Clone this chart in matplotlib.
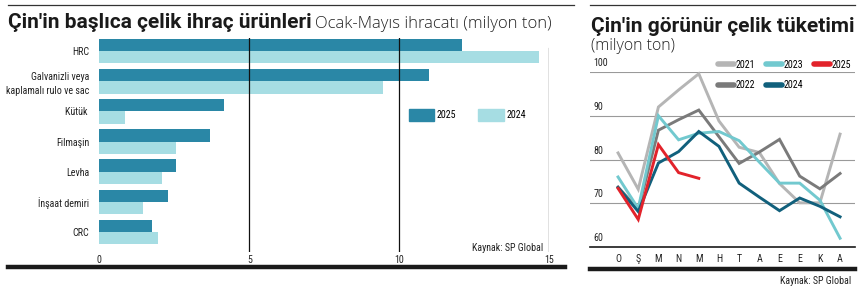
import matplotlib
matplotlib.use('Agg')
import matplotlib.pyplot as plt
from matplotlib.lines import Line2D
from matplotlib.patches import Patch
import matplotlib.transforms as mtransforms

# --- veri: sol grafik (Ocak-Mayıs ihracatı, milyon ton)
urunler = ['HRC', 'Galvanizli veya\nkaplamalı rulo ve sac', 'Kütük ', 'Filmaşin',
           'Levha', 'İnşaat demiri', 'CRC']
ihracat_2025 = [12.1, 11.0, 4.15, 3.7, 2.55, 2.3, 1.75]
ihracat_2024 = [14.65, 9.45, 0.85, 2.55, 2.1, 1.45, 1.95]

# --- veri: sağ grafik (görünür çelik tüketimi, milyon ton)
aylar = ['O', 'Ş', 'M', 'N', 'M', 'H', 'T', 'A', 'E', 'E', 'K', 'A']
tuketim_2021 = [81.5, 73.2, 92.0, 95.9, 99.6, 88.8, 82.8, 81.6, 74.5, 70.1, 70.1, 85.8]
tuketim_2022 = [73.7, 68.6, 86.7, 89.1, 91.3, 85.2, 79.1, 81.7, 84.6, 76.2, 73.3, 76.8]
tuketim_2023 = [76.0, 68.8, 90.0, 84.5, 86.0, 86.4, 84.3, 79.4, 74.6, 74.6, 70.7, 62.0]
tuketim_2024 = [73.6, 68.1, 79.2, 81.8, 86.4, 83.0, 74.6, 71.4, 68.3, 71.2, 69.3, 66.9]
tuketim_2025 = [73.4, 66.3, 83.4, 77.0, 75.7]

W, H = 864, 290
kucuk = dict(family=['Roboto Condensed', 'Roboto', 'DejaVu Sans'], size=7.2)
baslik = ['Roboto', 'DejaVu Sans']
ince = ['Open Sans', 'DejaVu Sans']

fig = plt.figure(figsize=(W / 100, H / 100), dpi=100)


def fx(px):
    return px / W


def fy(py):
    return 1 - py / H


# ---------------- sol: yatay çubuk grafik ----------------
ax1 = fig.add_axes([fx(99.3), fy(252), fx(450), 214 / H])
koyu = '#2a87a6'
acik = '#a6dde3'
yk = list(range(len(urunler)))
h = 0.41
ax1.barh([y - h / 2 for y in yk], ihracat_2025, height=h, color=koyu, zorder=2)
ax1.barh([y + h / 2 for y in yk], ihracat_2024, height=h, color=acik, zorder=2)
ax1.set_xlim(0, 15)
ax1.set_ylim(6.66, -0.43)
for v in (5, 10):
    ax1.axvline(v, color='#111111', lw=0.9, zorder=3)
ax1.axvline(15, ymax=0.952, color='#111111', lw=0.9, zorder=3)
for s in ax1.spines.values():
    s.set_visible(False)
ax1.set_yticks(yk)
ax1.set_yticklabels(urunler, color='#222222', linespacing=1.45, **kucuk)
ax1.set_xticks([0, 5, 10, 15])
ax1.set_xticklabels(['0', '5', '10', '15'], color='#222222', **kucuk)
ax1.tick_params(length=0, pad=2)
ax1.tick_params(axis='y', pad=7)

ax1.legend(handles=[Patch(color=koyu, label='2025'),
                    Patch(color=acik, label='2024')],
           ncol=2, frameon=False, loc='upper left',
           bbox_to_anchor=(0.688, 0.67), borderpad=0, borderaxespad=0,
           handlelength=2.55, handleheight=1.55, handletextpad=0.25,
           columnspacing=2.2, prop=kucuk)

fig.text(fx(543), fy(248), 'Kaynak: SP Global', ha='right', va='center',
         color='#222222', **kucuk)

fig.text(fx(8), fy(28), "Çin'in başlıca çelik ihraç ürünleri", ha='left',
         va='baseline', family=baslik, fontweight='bold', fontsize=15,
         color='#1a1a1a')
fig.text(fx(315), fy(28.3), 'Ocak-Mayıs ihracatı (milyon ton)', ha='left',
         va='baseline', family=ince, fontweight='light', fontsize=12,
         color='#222222')

fig.add_artist(Line2D([fx(8), fx(574)], [fy(5), fy(5)], lw=0.9,
                      color='#333333', transform=fig.transFigure))
fig.add_artist(Line2D([fx(8), fx(565)], [fy(267), fy(267)], lw=3.2,
                      color='#1a1a1a', transform=fig.transFigure))

# ---------------- sağ: çizgi grafik ----------------
ax2 = fig.add_axes([fx(590), fy(247), fx(265), 175 / H])
ax2.set_xlim(-1.39, 11.74)
ax2.set_ylim(60, 100)
for v in (70, 80, 90, 100):
    ax2.axhline(v, color='#9a9a9a', lw=0.8, zorder=1)
for s in ('top', 'right', 'left'):
    ax2.spines[s].set_visible(False)
ax2.spines['bottom'].set_color('#1a1a1a')
ax2.spines['bottom'].set_linewidth(1.2)

seriler = [('2021', tuketim_2021, '#b5b5b5'),
           ('2022', tuketim_2022, '#7a7a7a'),
           ('2023', tuketim_2023, '#72c9cf'),
           ('2024', tuketim_2024, '#11607c'),
           ('2025', tuketim_2025, '#e2232b')]
for ad, deger, renk in seriler:
    ax2.plot(range(len(deger)), deger, color=renk, lw=2.1, zorder=3,
             solid_joinstyle='miter', clip_on=False)

ax2.set_xticks(range(len(aylar)))
ax2.set_xticklabels(aylar, color='#222222', **kucuk)
ax2.set_yticks([])
ax2.tick_params(length=0, pad=5)

tr = mtransforms.blended_transform_factory(ax2.transAxes, ax2.transData)
for v in (60, 70, 80, 90, 100):
    ax2.text(0.012, v + 0.9, str(v), transform=tr, ha='left', va='bottom',
             color='#222222', **kucuk)

tutamak = [Line2D([0], [0], color=renk, lw=4, solid_capstyle='round', label=ad)
           for ad, deger, renk in seriler]
ax2.legend(handles=tutamak, ncol=3, frameon=False, loc='upper right',
           bbox_to_anchor=(0.985, 1.07), borderpad=0, borderaxespad=0,
           handlelength=1.6, handletextpad=0.15, columnspacing=1.1,
           labelspacing=1.05, prop=kucuk)

fig.text(fx(591), fy(31.7), "Çin'in görünür çelik tüketimi", ha='left',
         va='baseline', family=baslik, fontweight='bold', fontsize=15,
         color='#1a1a1a')
fig.text(fx(591), fy(46), '(milyon ton)', ha='left', va='center',
         family=ince, fontweight='light', fontsize=11.5, color='#222222')
fig.text(fx(851), fy(281), 'Kaynak: SP Global', ha='right', va='center',
         color='#222222', **kucuk)

fig.add_artist(Line2D([fx(590), fx(855)], [fy(5), fy(5)], lw=0.9,
                      color='#333333', transform=fig.transFigure))
fig.add_artist(Line2D([fx(590), fx(855)], [fy(268.5), fy(268.5)], lw=3.2,
                      color='#1a1a1a', transform=fig.transFigure))

fig.savefig('out.png', dpi=100)
